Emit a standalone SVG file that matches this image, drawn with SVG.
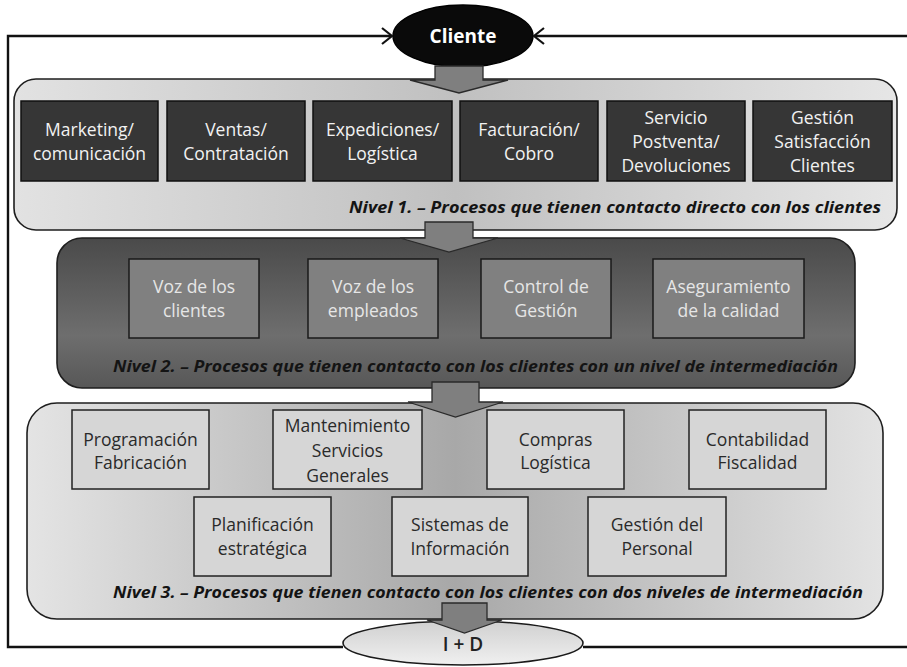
<svg xmlns="http://www.w3.org/2000/svg" width="907" height="667" viewBox="0 0 907 667">
<defs>
<linearGradient id="g1" x1="0" y1="0" x2="1" y2="0">
<stop offset="0" stop-color="#e2e2e2"/><stop offset="0.5" stop-color="#c0c0c0"/><stop offset="1" stop-color="#e6e6e6"/>
</linearGradient>
<linearGradient id="g2" x1="0" y1="0" x2="0" y2="1">
<stop offset="0" stop-color="#4a4a4a"/><stop offset="0.65" stop-color="#6e6e6e"/><stop offset="1" stop-color="#575757"/>
</linearGradient>
<linearGradient id="g3" x1="0" y1="0" x2="1" y2="0">
<stop offset="0" stop-color="#e4e4e4"/><stop offset="0.5" stop-color="#a8a8a8"/><stop offset="1" stop-color="#e3e3e3"/>
</linearGradient>
<linearGradient id="gid" x1="0" y1="0" x2="0" y2="1">
<stop offset="0" stop-color="#d0d0d0"/><stop offset="1" stop-color="#f0f0f0"/>
</linearGradient>
</defs>
<style>
.cont{stroke:#1e1e1e;stroke-width:1.6}
.b1{fill:#363636;stroke:#111;stroke-width:1.5}
.b2{fill:#808080;stroke:#1a1a1a;stroke-width:1.5}
.b3{fill:#d6d6d6;stroke:#222;stroke-width:1.5}
.t{font-family:"Open Sans","Liberation Sans",sans-serif;font-size:17.5px;text-anchor:middle}
.t1{fill:#f2f2f2}
.t2{fill:#e6e6e6}
.t3{fill:#2a2a2a}
.lab{font-family:"Open Sans","Liberation Sans",sans-serif;font-size:16.5px;font-weight:bold;font-style:italic;fill:#141414}
.frame{fill:none;stroke:#111;stroke-width:2.4}
.chev{fill:none;stroke:#111;stroke-width:2.2;stroke-linejoin:miter}
.barrow{fill:#7f7f7f;stroke:#2a2a2a;stroke-width:1.3;stroke-linejoin:miter}
</style>

<g id="nivel1">
<rect class="cont" x="14" y="79" width="883" height="151" rx="22" fill="url(#g1)"/>
<g id="n1-marketing"><rect class="b1" x="21" y="101" width="137" height="80"/>
<text class="t t1" x="89.5" y="136">Marketing/</text><text class="t t1" x="89.5" y="160">comunicación</text></g>
<g id="n1-ventas"><rect class="b1" x="167" y="101" width="138" height="80"/>
<text class="t t1" x="236" y="136">Ventas/</text><text class="t t1" x="236" y="160">Contratación</text></g>
<g id="n1-expediciones"><rect class="b1" x="313" y="101" width="139" height="80"/>
<text class="t t1" x="382.5" y="136">Expediciones/</text><text class="t t1" x="382.5" y="160">Logística</text></g>
<g id="n1-facturacion"><rect class="b1" x="460" y="101" width="138" height="80"/>
<text class="t t1" x="529" y="136">Facturación/</text><text class="t t1" x="529" y="160">Cobro</text></g>
<g id="n1-servicio"><rect class="b1" x="607" y="101" width="138" height="80"/>
<text class="t t1" x="676" y="124">Servicio</text><text class="t t1" x="676" y="148">Postventa/</text><text class="t t1" x="676" y="172">Devoluciones</text></g>
<g id="n1-gestion"><rect class="b1" x="753" y="101" width="139" height="80"/>
<text class="t t1" x="822.5" y="124">Gestión</text><text class="t t1" x="822.5" y="148">Satisfacción</text><text class="t t1" x="822.5" y="172">Clientes</text></g>
<text class="lab" x="349" y="213" textLength="532" lengthAdjust="spacingAndGlyphs">Nivel 1. – Procesos que tienen contacto directo con los clientes</text>
</g>

<g id="nivel2">
<rect class="cont" x="57" y="238" width="798" height="150" rx="25" fill="url(#g2)"/>
<g id="n2-vozclientes"><rect class="b2" x="129" y="259" width="130" height="79"/>
<text class="t t2" x="194" y="293">Voz de los</text><text class="t t2" x="194" y="317">clientes</text></g>
<g id="n2-vozempleados"><rect class="b2" x="308" y="259" width="130" height="79"/>
<text class="t t2" x="373" y="293">Voz de los</text><text class="t t2" x="373" y="317">empleados</text></g>
<g id="n2-control"><rect class="b2" x="481" y="259" width="130" height="79"/>
<text class="t t2" x="546" y="293">Control de</text><text class="t t2" x="546" y="317">Gestión</text></g>
<g id="n2-aseguramiento"><rect class="b2" x="653" y="259" width="151" height="79"/>
<text class="t t2" x="728.5" y="293">Aseguramiento</text><text class="t t2" x="728.5" y="317">de la calidad</text></g>
<text class="lab" x="113" y="372" textLength="725" lengthAdjust="spacingAndGlyphs">Nivel 2. – Procesos que tienen contacto con los clientes con un nivel de intermediación</text>
</g>

<g id="nivel3">
<rect class="cont" x="27" y="403" width="856" height="216" rx="30" fill="url(#g3)"/>
<g id="n3-programacion"><rect class="b3" x="72" y="410" width="137" height="79"/>
<text class="t t3" x="140.5" y="446">Programación</text><text class="t t3" x="140.5" y="469">Fabricación</text></g>
<g id="n3-mantenimiento"><rect class="b3" x="273" y="410" width="149" height="79"/>
<text class="t t3" x="347.5" y="432">Mantenimiento</text><text class="t t3" x="347.5" y="457">Servicios</text><text class="t t3" x="347.5" y="482">Generales</text></g>
<g id="n3-compras"><rect class="b3" x="487" y="410" width="137" height="79"/>
<text class="t t3" x="555.5" y="446">Compras</text><text class="t t3" x="555.5" y="469">Logística</text></g>
<g id="n3-contabilidad"><rect class="b3" x="689" y="410" width="137" height="79"/>
<text class="t t3" x="757.5" y="446">Contabilidad</text><text class="t t3" x="757.5" y="469">Fiscalidad</text></g>
<g id="n3-planificacion"><rect class="b3" x="194" y="497" width="137" height="79"/>
<text class="t t3" x="262.5" y="531">Planificación</text><text class="t t3" x="262.5" y="555">estratégica</text></g>
<g id="n3-sistemas"><rect class="b3" x="392" y="497" width="136" height="79"/>
<text class="t t3" x="460" y="531">Sistemas de</text><text class="t t3" x="460" y="555">Información</text></g>
<g id="n3-personal"><rect class="b3" x="588" y="497" width="138" height="79"/>
<text class="t t3" x="657" y="531">Gestión del</text><text class="t t3" x="657" y="555">Personal</text></g>
<text class="lab" x="113" y="598" textLength="750" lengthAdjust="spacingAndGlyphs">Nivel 3. – Procesos que tienen contacto con los clientes con dos niveles de intermediación</text>
</g>

<g id="cliente">
<ellipse cx="463" cy="36" rx="70" ry="31" fill="#0a0a0a" stroke="#000" stroke-width="1.5"/>
<text x="463" y="43" text-anchor="middle" font-family="'Open Sans','Liberation Sans',sans-serif" font-size="19" font-weight="bold" fill="#fff">Cliente</text>
</g>

<g id="imasd">
<ellipse cx="463" cy="643" rx="120" ry="22" fill="url(#gid)" stroke="#1a1a1a" stroke-width="1.6"/>
</g>

<g id="connectors">
<polyline class="frame" points="391,36 8,36 8,647 343,647"/>
<line class="frame" x1="535" y1="36" x2="907" y2="36"/>
<line class="frame" x1="583" y1="647" x2="907" y2="647"/>
<polyline class="chev" points="382,28 392,36 382,44"/>
<polyline class="chev" points="544,28 534,36 544,44"/>
<polygon class="barrow" points="435,66 483,66 483,80 508,80 459,93 410,80 435,80"/>
<polygon class="barrow" points="425,222 473,222 473,238 498,238 449,252 400,238 425,238"/>
<polygon class="barrow" points="432,382 479,382 479,402 503,402 455.5,417 408,402 432,402"/>
<polygon class="barrow" points="442,603 487,603 487,620 502,620 464.5,633 427,620 442,620"/>
</g>

<g id="imasd-label">
<text x="463" y="651" text-anchor="middle" font-family="'Open Sans','Liberation Sans',sans-serif" font-size="19" font-weight="600" fill="#222">I + D</text>
</g>
</svg>
